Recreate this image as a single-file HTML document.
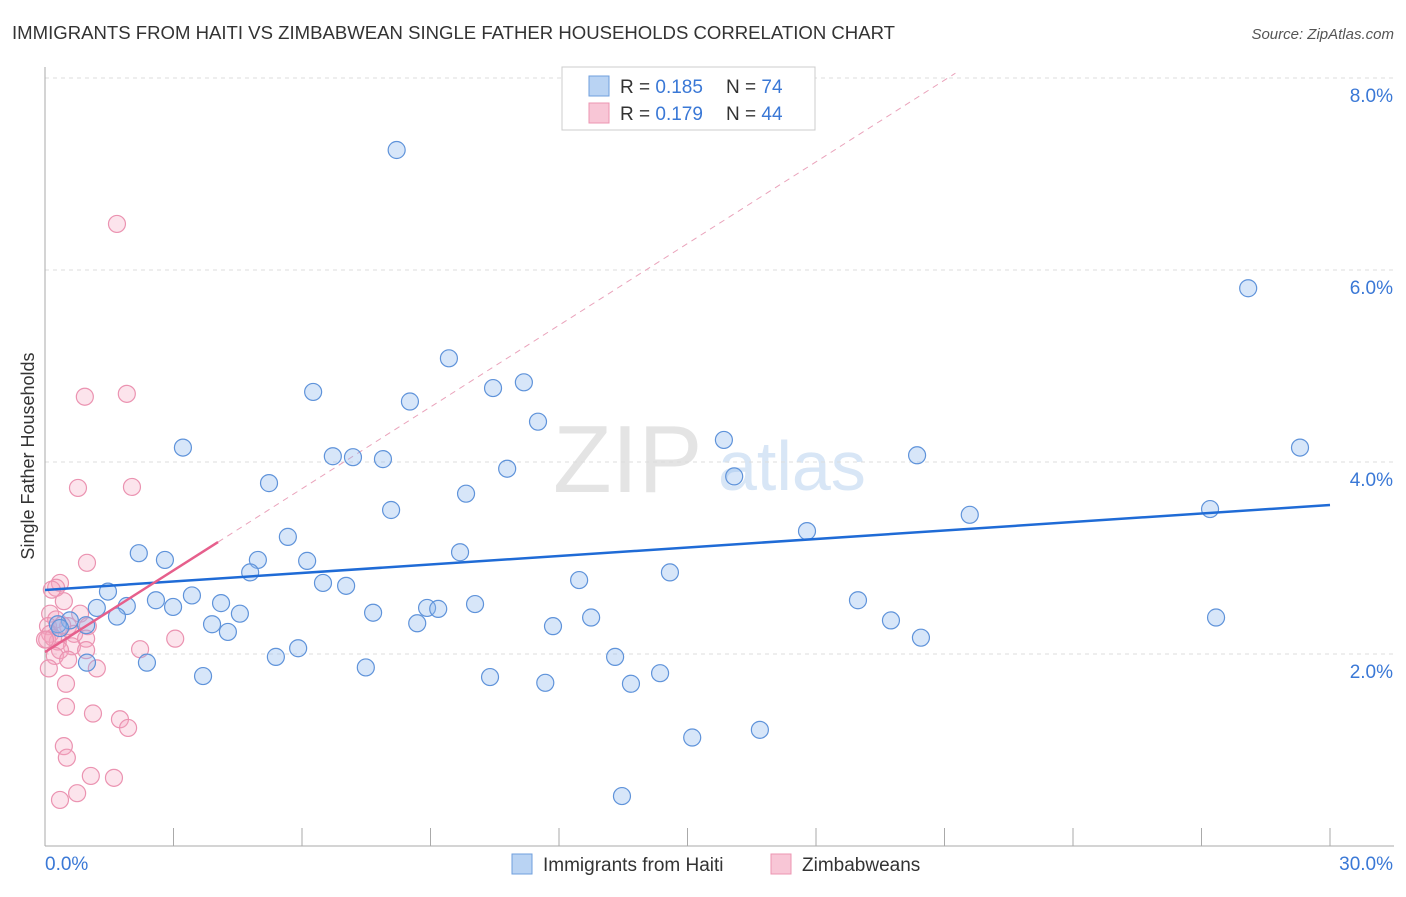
<!DOCTYPE html>
<html><head><meta charset="utf-8"><style>
body{margin:0;background:#fff;font-family:"Liberation Sans",sans-serif}
svg text{font-family:"Liberation Sans",sans-serif}
</style></head><body>
<svg id="c" width="1406" height="892" xmlns="http://www.w3.org/2000/svg">
<text x="12" y="39" font-size="18" fill="#333" textLength="883" lengthAdjust="spacingAndGlyphs">IMMIGRANTS FROM HAITI VS ZIMBABWEAN SINGLE FATHER HOUSEHOLDS CORRELATION CHART</text>
<text x="1394" y="39" font-size="15" fill="#555" font-style="italic" text-anchor="end">Source: ZipAtlas.com</text>
<g>
<text x="553" y="492" font-size="96" fill="#e4e4e4" font-family="Liberation Serif,serif">ZIP</text>
<text x="718" y="490" font-size="70" fill="#d8e6f6">atlas</text>
</g>
<g id="grid"></g><g id="axes"></g><g id="trend"></g><g id="pts"></g>
<text transform="translate(34,456) rotate(-90)" font-size="18" fill="#333" text-anchor="middle">Single Father Households</text>
<g>
<rect x="562" y="67" width="253" height="63" fill="#fff" stroke="#ccc"/>
<rect x="589" y="76" width="20" height="20" fill="#b9d3f3" stroke="#6f9fde"/>
<rect x="589" y="103" width="20" height="20" fill="#f8c6d6" stroke="#ec95b2"/>
<text x="620" y="93" font-size="19" fill="#333">R = <tspan fill="#3a78d6">0.185</tspan></text>
<text x="726" y="93" font-size="19" fill="#333">N = <tspan fill="#3a78d6">74</tspan></text>
<text x="620" y="120" font-size="19" fill="#333">R = <tspan fill="#3a78d6">0.179</tspan></text>
<text x="726" y="120" font-size="19" fill="#333">N = <tspan fill="#3a78d6">44</tspan></text>
</g>
<g>
<rect x="512" y="854" width="20" height="20" fill="#b9d3f3" stroke="#6f9fde"/>
<text x="543" y="871" font-size="19" fill="#333">Immigrants from Haiti</text>
<rect x="771" y="854" width="20" height="20" fill="#f8c6d6" stroke="#ec95b2"/>
<text x="802" y="871" font-size="19" fill="#333">Zimbabweans</text>
</g>
</svg>
<script>
const xTicks=[0,3,6,9,12,15,18,21,24,27,30];
const yTicks=[2,4,6,8];
const yTickLabels=["2.0%","4.0%","6.0%","8.0%"];
const xTickLabels=["0.0%","30.0%"];
const haitiX=[8.21,28.09,9.43,6.26,10.46,11.18,8.52,11.51,3.22,15.85,6.72,7.19,7.89,20.36,29.30,10.79,16.09,5.23,9.83,8.08,21.59,27.20,17.79,5.67,2.19,9.69,2.80,4.97,6.12,4.79,14.59,6.49,7.03,12.47,1.47,3.43,2.59,18.98,1.21,1.91,2.99,4.11,10.04,8.92,9.18,7.66,4.55,1.68,12.75,19.75,27.34,0.58,0.30,0.96,3.90,8.69,11.86,4.27,20.45,5.91,5.39,13.31,0.98,2.38,7.49,3.69,10.39,14.36,11.68,13.68,16.69,15.11,13.47,0.35];
const haitiY=[7.25,5.81,5.08,4.73,4.77,4.83,4.63,4.42,4.15,4.23,4.06,4.05,4.03,4.07,4.15,3.93,3.85,3.78,3.67,3.50,3.45,3.51,3.28,3.22,3.05,3.06,2.98,2.98,2.97,2.85,2.85,2.74,2.71,2.77,2.65,2.61,2.56,2.56,2.48,2.50,2.49,2.53,2.52,2.48,2.47,2.43,2.42,2.39,2.38,2.35,2.38,2.35,2.31,2.30,2.31,2.32,2.29,2.23,2.17,2.06,1.97,1.97,1.91,1.91,1.86,1.77,1.76,1.80,1.70,1.69,1.21,1.13,0.52,2.27];
const zimX=[1.68,1.91,0.93,0.77,2.03,0.98,0.35,0.26,0.16,0.44,0.82,0.12,0.26,0.07,0.54,1.00,0.12,0.68,0.96,3.04,0.30,0.05,0.63,2.22,0.96,0.35,0.23,0.54,1.21,0.09,0.49,0.49,1.12,1.75,1.94,0.44,0.51,1.07,1.61,0.75,0.35,0.40,0.19,0.00];
const zimY=[6.48,4.71,4.68,3.73,3.74,2.95,2.74,2.69,2.67,2.55,2.42,2.42,2.36,2.29,2.29,2.29,2.21,2.21,2.16,2.16,2.13,2.15,2.08,2.05,2.04,2.04,1.98,1.94,1.85,1.85,1.69,1.45,1.38,1.32,1.23,1.04,0.92,0.73,0.71,0.55,0.48,2.30,2.17,2.15];
const blueTrend=[2.667,3.552];
const pinkIntercept=2.02, pinkSlope=0.2837, pinkSolidEnd=4.04;
</script>
<script>
const NS="http://www.w3.org/2000/svg";
const X=v=>45+v*42.833, Y=v=>846-v*96;
function mk(t,a,p){const e=document.createElementNS(NS,t);for(const k in a)e.setAttribute(k,a[k]);p.appendChild(e);return e;}
const g=document.getElementById('grid'),ax=document.getElementById('axes'),tr=document.getElementById('trend'),pts=document.getElementById('pts');
yTicks.forEach((t,i)=>{
 const l=mk('line',{x1:45,x2:1394,y1:Y(t),y2:Y(t),stroke:'#ddd','stroke-dasharray':'4,4'},g);
 
 
 const tx=mk('text',{x:1393,y:Y(t)+24,'font-size':19,fill:'#3a78d6','text-anchor':'end'},g);tx.textContent=yTickLabels[i];
 
 
});
const topGrid=mk('line',{x1:45,x2:1394,y1:78,y2:78,stroke:'#ddd','stroke-dasharray':'4,4'},g);


const ya=mk('line',{x1:45,x2:45,y1:67,y2:846,stroke:'#aaa'},ax);


const xa=mk('line',{x1:45,x2:1394,y1:846,y2:846,stroke:'#aaa'},ax);


xTicks.forEach(t=>{const l=mk('line',{x1:X(t),x2:X(t),y1:828,y2:846,stroke:'#aaa'},ax);
 
 });
let t1=mk('text',{x:45,y:870,'font-size':19,fill:'#3a78d6'},ax);t1.textContent=xTickLabels[0];


let t2=mk('text',{x:1393,y:870,'font-size':19,fill:'#3a78d6','text-anchor':'end'},ax);t2.textContent=xTickLabels[1];


const xEndDash=(8.05-pinkIntercept)/pinkSlope;
let d=mk('line',{x1:X(pinkSolidEnd),y1:Y(pinkIntercept+pinkSlope*pinkSolidEnd),x2:X(xEndDash),y2:Y(pinkIntercept+pinkSlope*xEndDash),stroke:'#eaa3bb','stroke-dasharray':'6,5'},tr);


zimX.forEach((x,i)=>{const c=mk('circle',{cx:X(x),cy:Y(zimY[i]),r:8.5,fill:'rgba(245,165,192,0.3)',stroke:'#eb93b1','stroke-width':1.2},pts);
 
 });
haitiX.forEach((x,i)=>{const c=mk('circle',{cx:X(x),cy:Y(haitiY[i]),r:8.5,fill:'rgba(140,182,238,0.35)',stroke:'#5f93da','stroke-width':1.2},pts);
 
 });
let b=mk('line',{x1:X(0),y1:Y(blueTrend[0]),x2:X(30),y2:Y(blueTrend[1]),stroke:'#1f6bd6','stroke-width':2.5},pts);


let p=mk('line',{x1:X(0),y1:Y(pinkIntercept),x2:X(pinkSolidEnd),y2:Y(pinkIntercept+pinkSlope*pinkSolidEnd),stroke:'#e65f8c','stroke-width':2.5},pts);


</script>
</body></html>
